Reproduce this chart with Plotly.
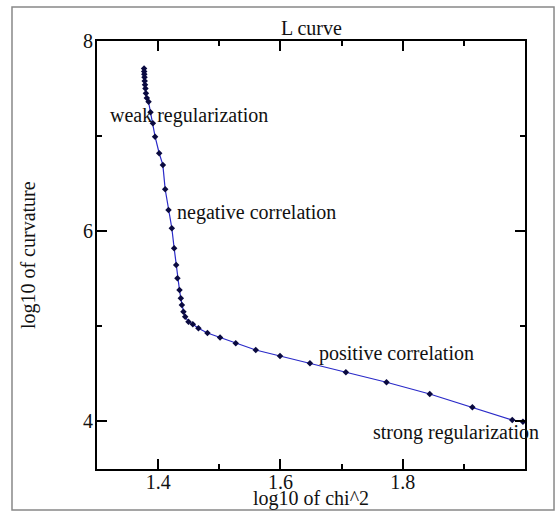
import plotly.graph_objects as go

# data
log_chi2 = [1.3770, 1.3772, 1.3774, 1.3777, 1.3780, 1.3785, 1.3792, 1.3800, 1.3815,
            1.3843, 1.3875, 1.3914, 1.3950, 1.4017, 1.4077, 1.4115, 1.4169, 1.4224,
            1.4262, 1.4295, 1.4316, 1.4349, 1.4371, 1.4388, 1.4414, 1.4442, 1.4496,
            1.4567, 1.4659, 1.4806, 1.5013, 1.5269, 1.5596, 1.5993, 1.6483, 1.7070,
            1.7735, 1.8442, 1.9139, 1.9792, 1.9966]
log_curv = [7.71, 7.68, 7.65, 7.62, 7.58, 7.54, 7.50, 7.45, 7.40,
            7.36, 7.25, 7.135, 6.994, 6.82, 6.697, 6.441, 6.223, 6.031,
            5.821, 5.645, 5.505, 5.382, 5.295, 5.224, 5.154, 5.101, 5.049,
            5.021, 4.979, 4.930, 4.883, 4.822, 4.751, 4.688, 4.611, 4.517,
            4.412, 4.289, 4.149, 4.015, 3.997]

x_ticks = [1.4, 1.6, 1.8]
x_minor = [1.5, 1.7, 1.9]
y_ticks = [4, 6, 8]
y_minor = [5, 7]

labels = ["weak regularization", "negative correlation", "positive correlation", "strong regularization"]
label_x = [1.318, 1.428, 1.660, 1.748]
label_y = [7.22, 6.20, 4.71, 3.88]

FONT = "Liberation Serif, Times New Roman, serif"

fig = go.Figure()
fig.add_trace(go.Scatter(
    x=log_chi2, y=log_curv, mode="lines+markers",
    line=dict(color="#2a2ac8", width=1.2),
    marker=dict(symbol="diamond", size=5, color="#0a0a40"),
    showlegend=False,
))

for t, lx, ly in zip(labels, label_x, label_y):
    fig.add_annotation(x=lx, y=ly, xref="x", yref="y", text=t, showarrow=False,
                       xanchor="left", yanchor="middle",
                       font=dict(family=FONT, size=20, color="#111"))

fig.add_annotation(x=0.5, y=1.0, xref="paper", yref="paper", text="L curve",
                   showarrow=False, xanchor="center", yanchor="bottom",
                   font=dict(family=FONT, size=20, color="#111"))
fig.add_annotation(x=0.5, y=-0.068, xref="paper", yref="paper", text="log10 of chi^2",
                   showarrow=False, xanchor="center", yanchor="middle",
                   font=dict(family=FONT, size=20, color="#111"))
fig.add_annotation(x=-0.161, y=0.5, xref="paper", yref="paper", text="log10 of curvature",
                   showarrow=False, xanchor="center", yanchor="middle", textangle=-90,
                   font=dict(family=FONT, size=20, color="#111"))

# outer frame
fig.add_shape(type="rect", xref="paper", yref="paper",
              x0=-0.1986, x1=1.0678, y0=-0.0958, y1=1.0794,
              line=dict(color="#888", width=1.5))

axis_common = dict(showline=True, linecolor="black", linewidth=2, mirror="ticks",
                   ticks="inside", ticklen=10, tickwidth=2, tickcolor="black",
                   showgrid=False, zeroline=False,
                   tickfont=dict(family=FONT, size=20, color="#111"))

fig.update_xaxes(range=[1.3, 2.0], tickmode="array", tickvals=x_ticks,
                 ticktext=[str(v) for v in x_ticks], ticklabelstandoff=-6,
                 minor=dict(tickmode="array", tickvals=x_minor, ticks="inside",
                            ticklen=5, tickwidth=2, tickcolor="black"),
                 **axis_common)
fig.update_yaxes(range=[3.5, 8.0], tickmode="array", tickvals=y_ticks,
                 ticktext=[str(v) for v in y_ticks], ticklabelstandoff=-2,
                 minor=dict(tickmode="array", tickvals=y_minor, ticks="inside",
                            ticklen=5, tickwidth=2, tickcolor="black"),
                 **axis_common)

fig.update_layout(width=556, height=512,
                  margin=dict(l=97, r=31, t=41, b=43),
                  paper_bgcolor="white", plot_bgcolor="white")

fig.write_html("out.html")
